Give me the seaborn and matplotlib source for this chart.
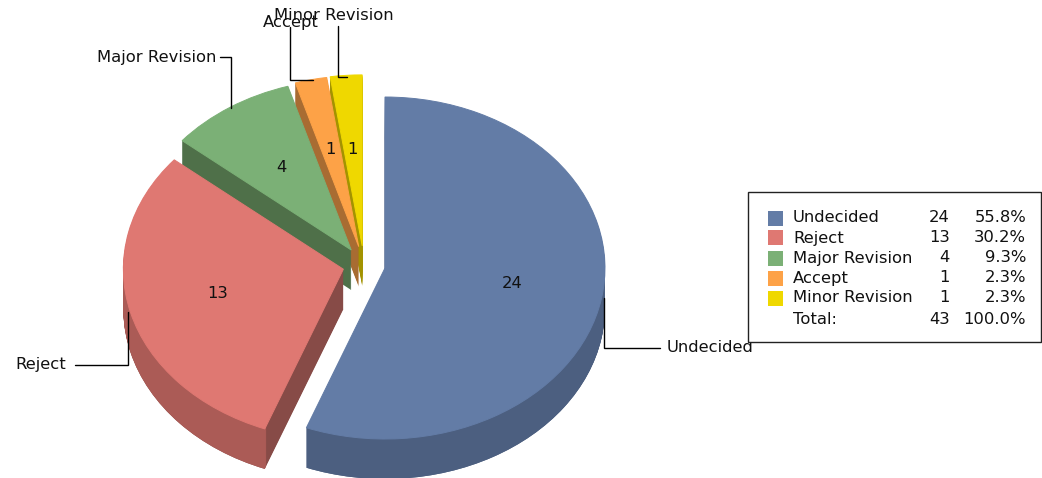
"""
Exploded 3D style pie of review decisions, with a small summary table.
"""

import matplotlib.pyplot as plt
from matplotlib.patches import Rectangle
import seaborn as sns

CATEGORIES = ["Undecided", "Reject", "Major Revision", "Accept", "Minor Revision"]
COUNTS = [24, 13, 4, 1, 1]
PERCENTS = ["55.8%", "30.2%", "9.3%", "2.3%", "2.3%"]
TOTAL_COUNT = 43
TOTAL_PERCENT = "100.0%"

TOP_COLORS = ["#637ca6", "#df7872", "#7bb076", "#fda247", "#efd800"]
RIM_COLORS = ["#4c5f80", "#ab5b56", "#4f7049", "#a86c32", "#a39300"]
CUT_COLORS = ["#4c5f80", "#874b47", "#4f7049", "#a86c32", "#a39300"]

W, H = 1042, 478
CX, CY = 364, 265       # pie centre in pixels
RX, RY = 220, 171       # radii of the tilted pie
DEPTH = 40
FONT_SIZE = 11.8

sns.set_theme(style="white")
plt.rcParams["font.family"] = ["DejaVu Sans"]

fig = plt.figure(figsize=(W / 100, H / 100), dpi=100, facecolor="white")
ax = fig.add_axes([0, 0, 1, 1])
palette = sns.color_palette(TOP_COLORS)
explode = [0.097, 0.097, 0.105, 0.11, 0.112]
# back slices first, the big ones sit on top of them
order = {i: 1 + 3 * (len(COUNTS) - i) for i in range(len(COUNTS))}


def draw_layer(colors, y_offset, level, **wedge_kw):
    wedges, _ = ax.pie(COUNTS, explode=explode, colors=colors, startangle=90,
                       counterclock=False, center=(0, y_offset), radius=1,
                       wedgeprops=wedge_kw)
    for i, w in enumerate(wedges):
        w.set_zorder(order[i] + level)
    return wedges


# side walls: stack of the same pie going down in 1px steps
for px in range(DEPTH, 0, -1):
    draw_layer(CUT_COLORS, -px / RY, 0, linewidth=0)
for px in range(DEPTH, 0, -1):
    draw_layer(RIM_COLORS, -px / RY, 1, linewidth=0, width=0.02)
# thin own-colour edge hides the dark fringe of the stack below
for w in draw_layer(palette, 0, 2, linewidth=0.7):
    w.set_edgecolor(w.get_facecolor())

# stretch the round pie to the tilted ellipse, data units stay on the unit circle
ax.set_aspect("auto")
ax.set_xlim(-CX / RX, (W - CX) / RX)
ax.set_ylim((CY - H) / RY, CY / RY)
ax.set_frame_on(False)


def to_axes(x, y):
    return x / W, 1 - y / H


def leader(points):
    xs, ys = zip(*[to_axes(x, y) for x, y in points])
    ax.plot(xs, ys, color="black", lw=1, transform=ax.transAxes, zorder=30,
            solid_joinstyle="miter")


def put_text(x, y, s, ha="left", zorder=31):
    tx, ty = to_axes(x, y)
    ax.text(tx, ty, s, ha=ha, va="center", color="#111111", fontsize=FONT_SIZE,
            transform=ax.transAxes, zorder=zorder, clip_on=False)


# value labels on the slices
VALUE_POS = [(512, 284), (218, 293), (281, 168), (330, 150), (352, 149)]
for (x, y), n in zip(VALUE_POS, COUNTS):
    put_text(x, y, str(n), ha="center")

# outside labels and their leader lines
leader([(604, 298), (604, 348), (660, 348)])
leader([(128, 312), (128, 365), (75, 365)])
leader([(220, 57), (231, 57), (231, 108)])
leader([(290, 27), (290, 80), (313, 80)])
leader([(338, 26), (338, 77), (347, 77)])
put_text(667, 348, CATEGORIES[0])
put_text(15, 365, CATEGORIES[1])
put_text(97, 57, CATEGORIES[2])
put_text(263, 22, CATEGORIES[3])
put_text(274, 16, CATEGORIES[4])

# summary table
bx, by = to_axes(747.5, 342)
ax.add_patch(Rectangle((bx, by), (1041 - 747.5) / W, 150 / H, transform=ax.transAxes,
                       facecolor="white", edgecolor="#222222", lw=1, zorder=32))
ROW_Y = [218, 238, 258, 278, 298]
for i, y in enumerate(ROW_Y):
    sx, sy = to_axes(768, y + 7.5)
    ax.add_patch(Rectangle((sx, sy), 15 / W, 15 / H, transform=ax.transAxes,
                           facecolor=palette[i], edgecolor="none", zorder=33))
    put_text(793, y, CATEGORIES[i], zorder=34)
    put_text(950, y, str(COUNTS[i]), ha="right", zorder=34)
    put_text(1026, y, PERCENTS[i], ha="right", zorder=34)
put_text(793, 320, "Total:", zorder=34)
put_text(950, 320, str(TOTAL_COUNT), ha="right", zorder=34)
put_text(1026, 320, TOTAL_PERCENT, ha="right", zorder=34)

fig.savefig("out.png", dpi=100, facecolor="white")
